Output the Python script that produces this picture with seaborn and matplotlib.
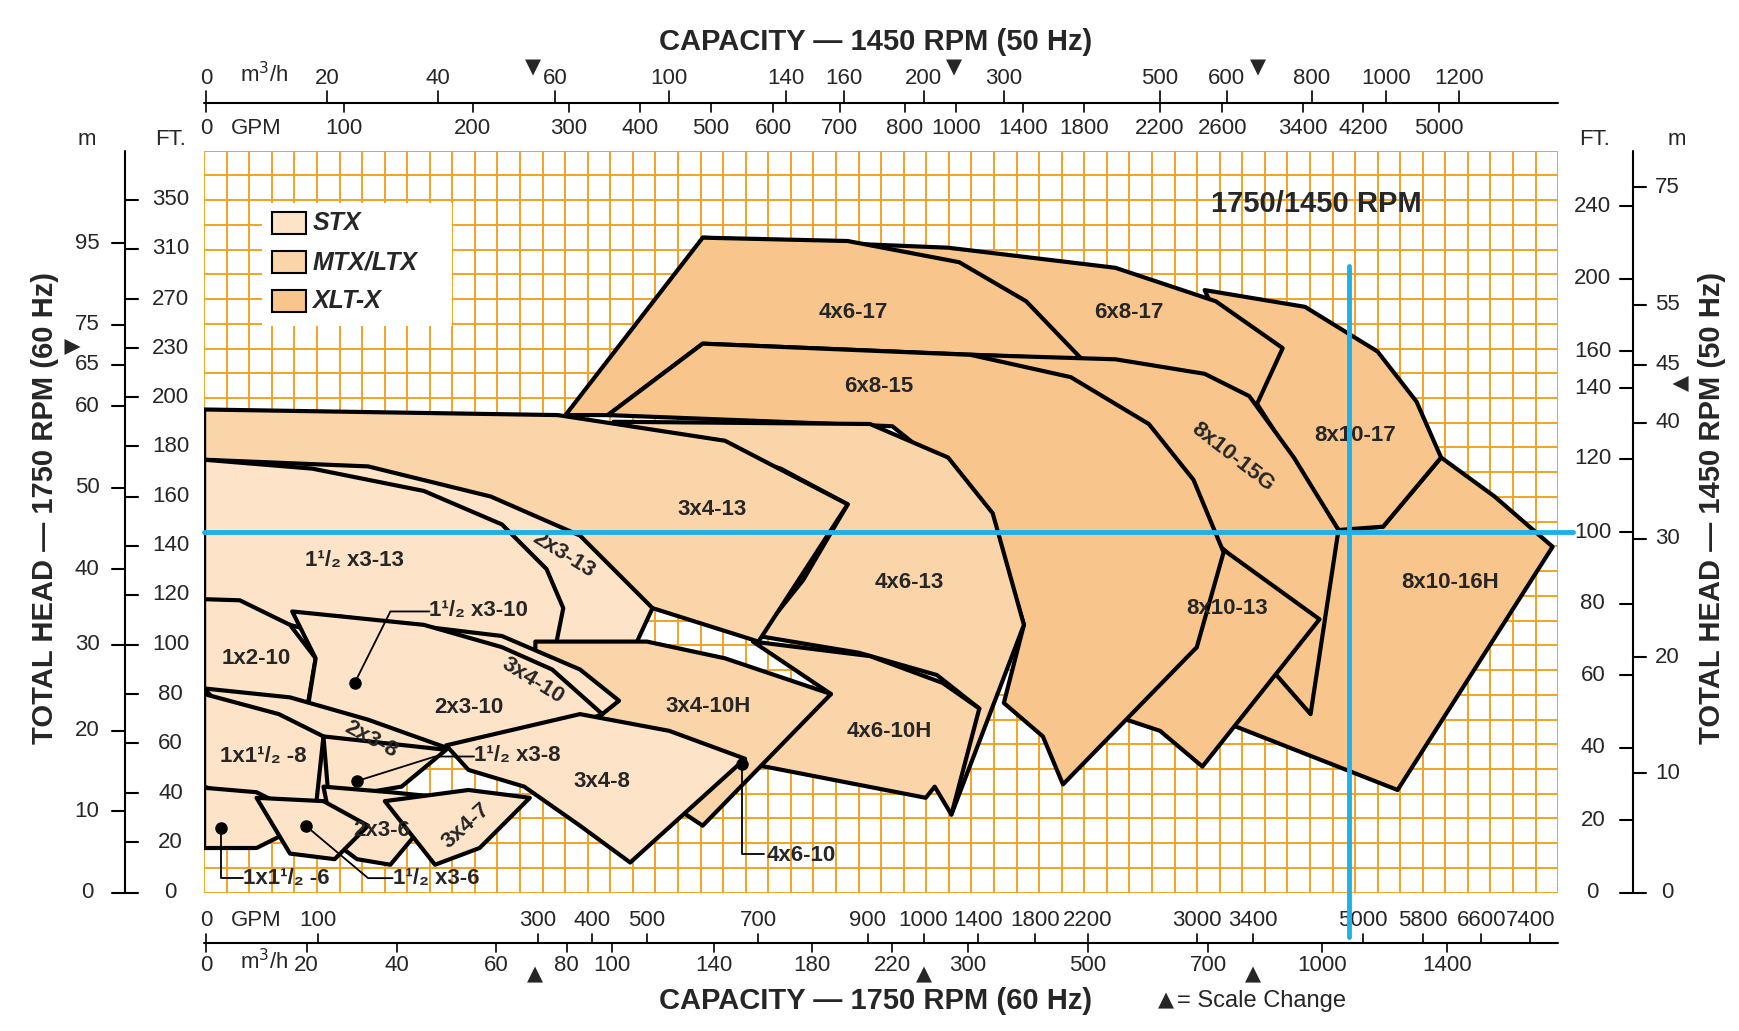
import matplotlib
matplotlib.use("Agg")
import matplotlib.pyplot as plt
import seaborn as sns
from matplotlib.patches import Polygon, Rectangle

sns.set_style("white")
plt.rcParams['font.family'] = ['Liberation Sans', 'DejaVu Sans']

# chart positions in the reference's own (non-linear) grid, pixel units of the grid
X0, Y0 = 183, 800
W, H = 1214, 665

fill_colors = {'STX': '#fde4c8', 'MTX': '#fbd5aa', 'XLT': '#f8c68c'}
series_names = ['STX', 'MTX/LTX', 'XLT-X']

# pump coverage outlines (capacity position, head position), drawn back to front
pumps = [
    ('8x10-16H', 'XLT', [(1240,472),(1292,410),(1340,445),(1392,490),(1253,708),(1105,650),(1183,555),(1200,475)], (1300,522)),
    ('8x10-17', 'XLT', [(1080,260),(1170,275),(1235,315),(1270,360),(1292,410),(1240,472),(1200,475),(1127,362)], (1215,390)),
    ('6x8-17', 'XLT', [(630,213),(850,222),(1000,240),(1090,270),(1150,312),(1127,362),(970,322)], (1012,280)),
    ('4x6-17', 'XLT', [(507,372),(630,213),(760,216),(860,235),(920,270),(970,322),(630,308),(545,372)], (765,280)),
    ('8x10-15G', 'XLT', [(870,318),(1000,322),(1080,335),(1120,355),(1160,410),(1200,475),(1175,640),(1140,600),(1100,495)], (1105,410)),
    ('8x10-13', 'XLT', [(920,437),(1010,440),(1060,460),(1100,495),(1183,555),(1078,687),(1040,655),(995,640),(1073,580)], (1100,545)),
    ('6x8-15', 'XLT', [(545,372),(630,308),(870,318),(960,338),(1030,380),(1070,430),(1097,495),(1073,580),(953,703),(935,660),(900,630),(918,560),(900,500),(860,430),(800,382),(700,378)], (788,346)),
    ('4x6-13', 'MTX', [(550,378),(780,380),(850,410),(890,460),(918,560),(853,730),(845,700),(830,690),(878,635),(840,605),(770,585),(680,570),(720,520),(760,452),(700,420)], (815,522)),
    ('4x6-10H', 'MTX', [(675,575),(780,588),(845,612),(878,635),(853,730),(838,705),(830,715),(660,682),(745,622)], (797,656)),
    ('3x4-13', 'MTX', [(183,367),(500,372),(650,395),(760,452),(680,575),(585,545),(183,480)], (638,457)),
    ('2x3-13', 'STX', [(183,412),(330,418),(440,445),(520,480),(585,545),(548,625),(470,600),(183,540)], (505,497)),
    ('1¹/₂ x3-13', 'STX', [(183,412),(280,420),(380,440),(450,470),(490,510),(505,545),(490,620),(183,540)], (318,502)),
    ('3x4-10H', 'MTX', [(480,575),(580,575),(650,590),(745,622),(630,740),(600,720),(480,665)], (635,633)),
    ('1x2-10', 'STX', [(183,537),(215,538),(260,560),(283,590),(275,637),(183,617)], (230,590)),
    ('3x4-10', 'STX', [(300,552),(450,570),(520,600),(555,628),(540,640),(450,620),(380,630)], (478,610)),
    ('2x3-10', 'STX', [(262,548),(380,560),(450,580),(495,600),(540,640),(490,660),(395,670),(300,660),(275,640),(283,590)], (420,634)),
    ('3x4-8', 'STX', [(400,668),(520,640),(600,655),(668,680),(565,773),(520,740),(470,705),(420,690)], (540,700)),
    ('2x3-8', 'STX', [(183,617),(260,625),(330,645),(400,670),(340,690),(300,740),(283,725)], (333,663)),
    ('1x1¹/₂ -8', 'STX', [(183,622),(250,640),(290,660),(283,725),(230,720),(183,705)], (236,678)),
    ('1¹/₂ x3-8', 'STX', [(290,660),(400,672),(360,705),(330,710),(295,720)], None),
    ('2x3-6', 'STX', [(290,705),(350,710),(400,715),(350,775),(320,770),(300,755)], (342,744)),
    ('3x4-7', 'STX', [(345,718),(420,708),(475,715),(430,760),(390,775)], (418,740)),
    ('1x1¹/₂ -6', 'STX', [(183,706),(230,710),(250,720),(260,745),(230,760),(183,760)], None),
    ('1¹/₂ x3-6', 'STX', [(230,715),(290,718),(330,740),(300,770),(260,765)], None),
]

# axis scales: (label, position)
ft_left = [0,20,40,60,80,100,120,140,160,180,200,230,270,310,350]
ft_left_pos = [800,755,711,666,622,578,533,489,445,400,356,312,268,223,179]
m_left = [0,10,20,30,40,50,60,65,75,95]
m_left_pos = [800,727,655,578,510,437,364,327,291,218]
ft_right = [0,20,40,60,80,100,120,140,160,200,240]
ft_right_pos = [800,735,670,605,541,477,411,348,315,250,185]
m_right = [0,10,20,30,40,45,55,75]
m_right_pos = [800,693,589,483,379,327,273,168]
top_m3h = ['0','20','40','60','100','140','160','200','300','500','600','800','1000','1200']
top_m3h_pos = [185,293,393,498,600,705,757,828,900,1040,1100,1176,1243,1308]
top_gpm = ['0','100','200','300','400','500','600','700','800','1000','1400','1800','2200','2600','3400','4200','5000']
top_gpm_pos = [185,308,424,510,574,637,693,753,811,857,917,972,1040,1096,1168,1222,1290]
bot_gpm = ['0','100','300','400','500','700','900','1000','1400','1800','2200','3000','3400','5000','5800','6600','7400']
bot_gpm_pos = [185,285,482,531,580,680,778,828,877,928,975,1073,1123,1222,1276,1328,1372]
bot_m3h = ['0','20','40','60','80','100','140','180','220','300','500','700','1000','1400']
bot_m3h_pos = [185,275,356,445,508,549,640,728,800,868,975,1083,1185,1297]


def P(px, py):
    return px - X0, Y0 - py


fig = plt.figure(figsize=(17.4, 10.31), dpi=100)
ax = fig.add_axes([X0 / 1560, (924 - Y0) / 924, W / 1560, H / 924])
ax.set_xlim(0, W)
ax.set_ylim(0, H)
ax.set_xticks([])
ax.set_yticks([])
for s in ax.spines.values():
    s.set_visible(False)

grid_c = '#f4a222'
for i in range(61):
    ax.axvline(i * W / 60, color=grid_c, lw=1.4, zorder=0)
for j in range(31):
    ax.axhline(j * H / 30, color=grid_c, lw=1.4, zorder=0)

for name, kind, pts, lab in pumps:
    poly = Polygon([P(*p) for p in pts], closed=True, facecolor=fill_colors[kind],
                   edgecolor='black', lw=3, joinstyle='round', zorder=2)
    ax.add_patch(poly)
    if lab:
        rot = -38 if name == '8x10-15G' else (-32 if name in ('2x3-13', '3x4-10') else 0)
        rot = -28 if name == '2x3-8' else rot
        rot = 42 if name == '3x4-7' else rot
        ax.text(*P(*lab), name, fontsize=16, fontweight='bold', ha='center', va='center',
                rotation=rot, zorder=5)

# callouts
callouts = [('1¹/₂ x3-10', (318,612), [(318,612),(350,548),(385,548)], (385,547)),
            ('1¹/₂ x3-8', (320,700), [(320,700),(390,678),(425,678)], (425,677)),
            ('4x6-10', (665,685), [(665,685),(665,765),(685,765)], (687,767)),
            ('1x1¹/₂ -6', (198,742), [(198,742),(198,787),(218,787)], (218,787)),
            ('1¹/₂ x3-6', (274,740), [(274,740),(330,787),(352,787)], (352,787))]
for txt, dot, line, tp in callouts:
    ax.plot(*P(*dot), 'o', color='black', ms=8, zorder=6, clip_on=False)
    xs, ys = zip(*[P(*p) for p in line])
    ax.plot(xs, ys, color='black', lw=1.3, zorder=6, clip_on=False)
    ax.text(*P(*tp), txt, fontsize=16, fontweight='bold', ha='left', va='center', zorder=6, clip_on=False)

# blue reference lines
blue = '#1fb1e6'
ax.plot(*zip(P(183, 477), P(1410, 477)), color=blue, lw=3.5, zorder=7, clip_on=False)
ax.plot(*zip(P(1209, 238), P(1209, 840)), color=blue, lw=3.5, zorder=7, clip_on=False)

# legend
ax.add_patch(Rectangle(P(235, 292), 170, 110, facecolor='white', edgecolor='none', zorder=4))
for k, (nm, key) in enumerate(zip(series_names, ['STX', 'MTX', 'XLT'])):
    yy = 200 + k * 35
    ax.add_patch(Rectangle(P(244, yy + 10), 30, 20, facecolor=fill_colors[key],
                           edgecolor='black', lw=1.5, zorder=5))
    ax.text(*P(280, yy), nm, fontsize=18, fontweight='bold', style='italic', va='center', zorder=5)
ax.text(*P(1180, 183), '1750/1450 RPM', fontsize=21, fontweight='bold', ha='center', va='center', zorder=5)

kw = dict(clip_on=False, color='black')
tfs = 16
# left axis
ax.plot(*zip(P(112, 135), P(112, 800)), lw=1.5, **kw)
for v, py in zip(ft_left, ft_left_pos):
    ax.plot(*zip(P(112, py), P(124, py)), lw=1.5, **kw)
    ax.text(*P(153, py), str(v), fontsize=tfs, ha='center', va='center', clip_on=False)
for v, py in zip(m_left, m_left_pos):
    ax.plot(*zip(P(100, py), P(112, py)), lw=1.5, **kw)
    ax.text(*P(78, py), str(v), fontsize=tfs, ha='center', va='center', clip_on=False)
ax.text(*P(78, 125), 'm', fontsize=tfs, ha='center', va='center', clip_on=False)
ax.text(*P(153, 125), 'FT.', fontsize=tfs, ha='center', va='center', clip_on=False)
ax.text(*P(66, 310), '▼', fontsize=15, ha='center', va='center', rotation=90, clip_on=False, family='DejaVu Sans')
ax.text(*P(40, 455), 'TOTAL HEAD — 1750 RPM (60 Hz)', fontsize=21, fontweight='bold',
        rotation=90, ha='center', va='center', clip_on=False)
# right axis
ax.plot(*zip(P(1464, 135), P(1464, 800)), lw=1.5, **kw)
for v, py in zip(ft_right, ft_right_pos):
    ax.plot(*zip(P(1452, py), P(1464, py)), lw=1.5, **kw)
    ax.text(*P(1428, py), str(v), fontsize=tfs, ha='center', va='center', clip_on=False)
for v, py in zip(m_right, m_right_pos):
    ax.plot(*zip(P(1464, py), P(1476, py)), lw=1.5, **kw)
    ax.text(*P(1495, py), str(v), fontsize=tfs, ha='center', va='center', clip_on=False)
ax.text(*P(1430, 125), 'FT.', fontsize=tfs, ha='center', va='center', clip_on=False)
ax.text(*P(1503, 125), 'm', fontsize=tfs, ha='center', va='center', clip_on=False)
ax.text(*P(1507, 343), '▲', fontsize=15, ha='center', va='center', rotation=90, clip_on=False, family='DejaVu Sans')
ax.text(*P(1535, 455), 'TOTAL HEAD — 1450 RPM (50 Hz)', fontsize=21, fontweight='bold',
        rotation=90, ha='center', va='center', clip_on=False)
# top axis
ax.plot(*zip(P(183, 92), P(1397, 92)), lw=1.5, **kw)
for lbl, px in zip(top_m3h, top_m3h_pos):
    ax.plot(*zip(P(px, 82), P(px, 92)), lw=1.2, **kw)
    ax.text(*P(px, 70), lbl, fontsize=tfs, ha='center', va='center', clip_on=False)
for lbl, px in zip(top_gpm, top_gpm_pos):
    ax.plot(*zip(P(px, 92), P(px, 100)), lw=1.2, **kw)
    ax.text(*P(px, 115), lbl, fontsize=tfs, ha='center', va='center', clip_on=False)
ax.text(*P(237, 67), 'm$^3$/h', fontsize=tfs, ha='center', va='center', clip_on=False)
ax.text(*P(230, 115), 'GPM', fontsize=tfs, ha='center', va='center', clip_on=False)
for px in (478, 855, 1128):
    ax.text(*P(px, 60), '▼', fontsize=15, ha='center', va='center', clip_on=False, family='DejaVu Sans')
ax.text(*P(785, 38), 'CAPACITY — 1450 RPM (50 Hz)', fontsize=21, fontweight='bold',
        ha='center', va='center', clip_on=False)
# bottom axis
ax.plot(*zip(P(183, 845), P(1397, 845)), lw=1.5, **kw)
for lbl, px in zip(bot_gpm, bot_gpm_pos):
    ax.plot(*zip(P(px, 837), P(px, 845)), lw=1.2, **kw)
    ax.text(*P(px, 825), lbl, fontsize=tfs, ha='center', va='center', clip_on=False)
for lbl, px in zip(bot_m3h, bot_m3h_pos):
    ax.plot(*zip(P(px, 845), P(px, 853)), lw=1.2, **kw)
    ax.text(*P(px, 865), lbl, fontsize=tfs, ha='center', va='center', clip_on=False)
ax.text(*P(230, 825), 'GPM', fontsize=tfs, ha='center', va='center', clip_on=False)
ax.text(*P(237, 862), 'm$^3$/h', fontsize=tfs, ha='center', va='center', clip_on=False)
for px in (480, 828, 1123):
    ax.text(*P(px, 873), '▲', fontsize=15, ha='center', va='center', clip_on=False, family='DejaVu Sans')
ax.text(*P(785, 897), 'CAPACITY — 1750 RPM (60 Hz)', fontsize=21, fontweight='bold',
        ha='center', va='center', clip_on=False)
ax.text(*P(1045, 897), '▲', fontsize=15, ha='center', va='center', clip_on=False, family='DejaVu Sans')
ax.text(*P(1055, 897), '= Scale Change', fontsize=17, ha='left', va='center', clip_on=False)

fig.savefig('out.png', dpi=100)
